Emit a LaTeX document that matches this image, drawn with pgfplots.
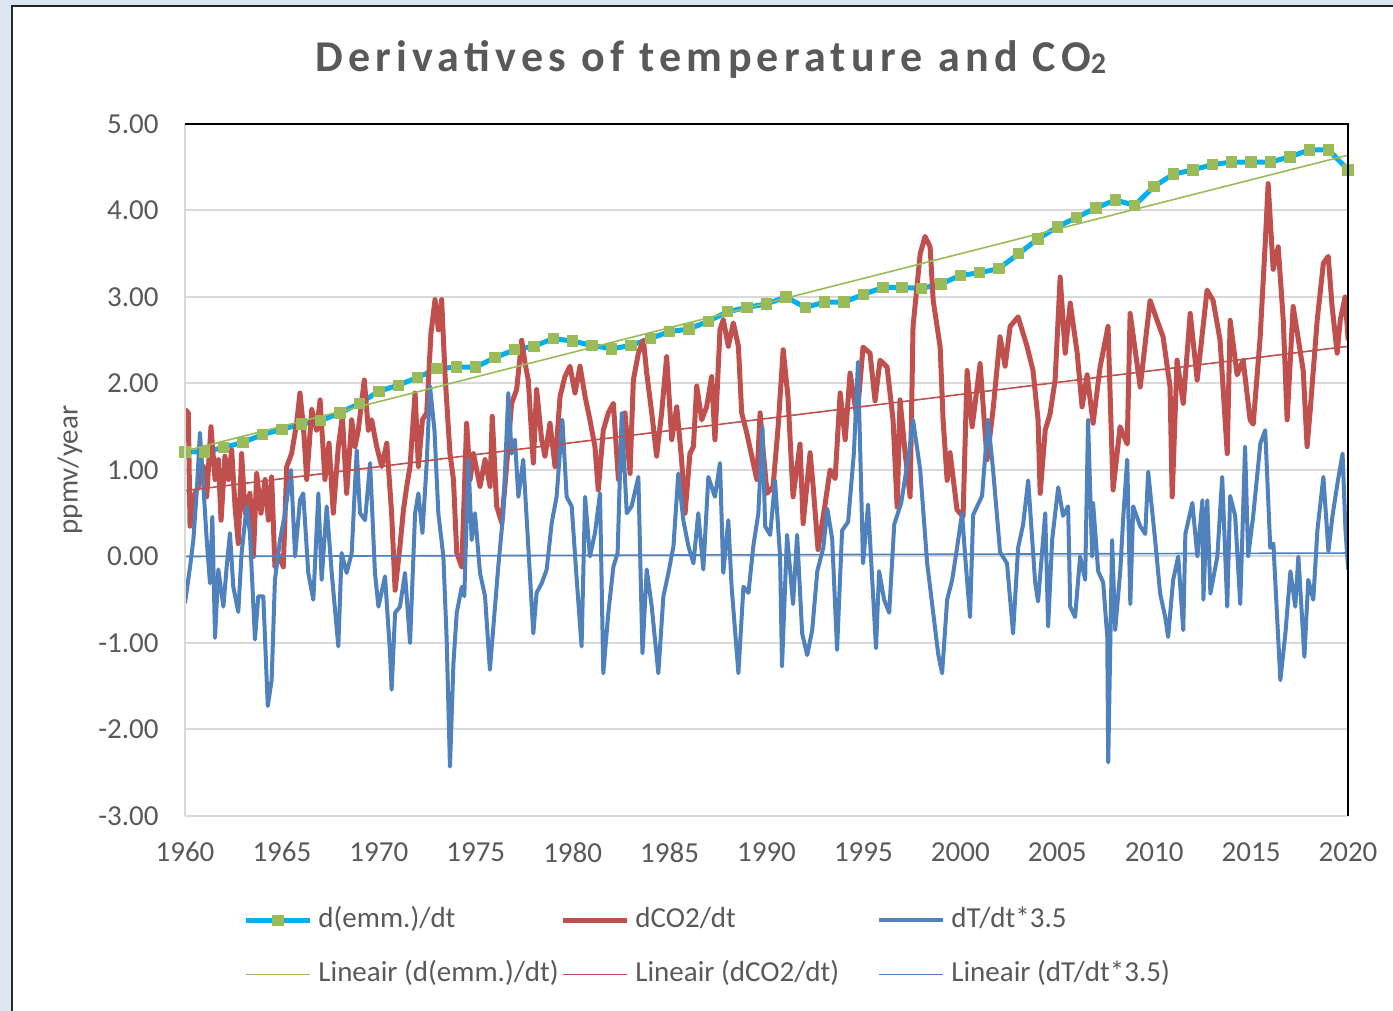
\documentclass[border=0pt]{standalone}
\usepackage{fontspec}
\setmainfont{Carlito}
\newfontfamily\titlefont[LetterSpace=12]{Carlito}
\usepackage{pgfplots}
\pgfplotsset{compat=1.18}
\definecolor{bgblue}{HTML}{DCE6F2}
\definecolor{txtgray}{HTML}{595959}
\definecolor{gridgray}{HTML}{D9D9D9}
\definecolor{emmcyan}{HTML}{00B0F0}
\definecolor{emmgreen}{HTML}{9BBB59}
\definecolor{co2red}{HTML}{C0504D}
\definecolor{tblue}{HTML}{4F81BD}
\newcommand{\fs}{\fontsize{14.5}{17}\selectfont}
\newcommand{\lt}[1]{\makebox[121pt][l]{\textcolor{txtgray}{#1}}}
\begin{document}
\begin{tikzpicture}
\useasboundingbox (0,0) rectangle (696.5pt,505.5pt);
\fill[bgblue] (0,0) rectangle (696.5pt,505.5pt);
\fill[white] (6pt,0) rectangle (696.5pt,502.5pt);
\draw[black!85, line width=1pt] (6pt,0) -- (6pt,502.5pt) -- (696.5pt,502.5pt);
\begin{axis}[
  name=ax,
  at={(92.5pt,97.5pt)}, anchor=south west,
  scale only axis, width=581.5pt, height=346pt,
  xmin=1960, xmax=2020, ymin=-3, ymax=5,
  xtick={1960,1965,...,2020}, ytick={-3,-2,...,5},
  axis line style={draw=none},
  major tick length=0pt,
  ymajorgrids, major grid style={gridgray, line width=1pt},
  tick label style={text=txtgray, font=\fs},
  /pgf/number format/assume math mode=true,
  xticklabel style={/pgf/number format/1000 sep={}, anchor=north, yshift=-13pt, inner sep=0pt},
  yticklabel style={/pgf/number format/.cd, fixed, fixed zerofill, precision=2, /tikz/.cd, anchor=east, xshift=-13pt, inner sep=0pt},
  ylabel={ppmv/year},
  ylabel style={at={(axis description cs:-0.099,0.5)}, anchor=center, text=txtgray, font=\fs},
  title={{\titlefont\bfseries Derivatives of temperature and CO\raisebox{-0.05em}{\fontsize{15}{15}\selectfont 2}}},
  title style={at={(axis description cs:0.452,1.076)}, anchor=center, text=txtgray, font=\fontsize{22}{25}\selectfont},
  legend columns=3,
  legend cell align=left,
  legend image code/.code={\draw[mark repeat=2,mark phase=2,#1] plot coordinates {(0pt,0pt) (16pt,0pt) (32pt,0pt)};},
  legend style={at={(axis description cs:0.0499,-0.1257)}, anchor=north west,
    draw=none, fill=none, inner sep=0pt, font=\fs,
    nodes={inner xsep=0pt, inner ysep=2pt, text height=10pt, text depth=3pt},
    /tikz/every odd column/.append style={column sep=3pt},
    row sep=10pt},
]
\addplot[emmcyan, line width=2.5pt, mark=square*, mark size=2.6pt, mark options={emmgreen, fill=emmgreen, line width=0pt}] table {
1960 1.21
1961 1.21
1962 1.26
1963 1.32
1964 1.41
1965 1.47
1966 1.53
1967 1.57
1968 1.66
1969 1.77
1970 1.91
1971 1.98
1972 2.07
1973 2.17
1974 2.19
1975 2.19
1976 2.30
1977 2.39
1978 2.43
1979 2.52
1980 2.49
1981 2.44
1982 2.40
1983 2.44
1984 2.52
1985 2.60
1986 2.63
1987 2.72
1988 2.83
1989 2.88
1990 2.92
1991 3.00
1992 2.88
1993 2.94
1994 2.94
1995 3.03
1996 3.11
1997 3.11
1998 3.10
1999 3.15
2000 3.25
2001 3.28
2002 3.33
2003 3.50
2004 3.67
2005 3.81
2006 3.92
2007 4.03
2008 4.12
2009 4.06
2010 4.28
2011 4.42
2012 4.47
2013 4.53
2014 4.56
2015 4.56
2016 4.56
2017 4.62
2018 4.70
2019 4.70
2020 4.47
};
\addlegendentry{\lt{d(emm.)/dt}}
\addplot[co2red, line width=2.5pt, line join=round] table {
1960.00 1.70
1960.17 1.66
1960.26 0.35
1960.52 0.73
1960.69 0.81
1960.95 1.04
1961.12 0.69
1961.34 1.50
1961.55 0.89
1961.72 1.12
1961.86 0.42
1962.06 1.16
1962.24 0.89
1962.41 1.23
1962.58 0.58
1962.75 0.15
1962.92 1.19
1963.10 0.50
1963.35 0.73
1963.53 0.00
1963.70 0.96
1963.92 0.50
1964.13 0.89
1964.30 0.42
1964.47 0.92
1964.64 -0.12
1964.90 0.00
1965.07 -0.12
1965.25 1.04
1965.50 1.19
1965.76 1.54
1965.93 1.89
1966.11 1.50
1966.28 0.89
1966.54 1.70
1966.79 1.46
1966.97 1.81
1967.22 0.89
1967.43 1.31
1967.65 0.50
1967.91 1.27
1968.12 1.62
1968.34 0.73
1968.60 1.58
1968.77 1.27
1968.94 1.46
1969.25 2.04
1969.46 1.46
1969.63 1.58
1969.89 1.27
1970.15 1.04
1970.41 1.31
1970.66 0.50
1970.84 -0.39
1971.09 0.12
1971.27 0.54
1971.44 0.81
1971.61 1.04
1971.87 1.89
1972.04 1.04
1972.25 1.58
1972.47 1.66
1972.69 2.58
1972.90 2.97
1973.07 2.62
1973.24 2.97
1973.42 2.08
1973.67 1.19
1973.85 0.89
1974.02 0.04
1974.28 -0.12
1974.53 1.54
1974.71 0.89
1974.88 1.19
1975.22 0.81
1975.48 1.12
1975.74 0.81
1975.85 1.62
1976.08 0.58
1976.34 0.39
1976.59 1.04
1976.85 1.77
1977.11 1.93
1977.37 2.50
1977.54 2.24
1977.71 2.04
1977.97 1.08
1978.14 1.93
1978.40 1.35
1978.57 1.16
1978.83 1.54
1979.09 1.04
1979.35 1.85
1979.60 2.08
1979.86 2.20
1980.12 1.89
1980.38 2.20
1980.64 1.85
1980.89 1.58
1981.15 1.27
1981.32 0.77
1981.58 1.46
1981.84 1.66
1982.10 1.77
1982.36 0.89
1982.53 1.08
1982.70 1.66
1982.96 0.96
1983.13 2.04
1983.39 2.35
1983.65 2.50
1983.82 2.12
1984.08 1.66
1984.33 1.16
1984.59 1.66
1984.85 2.31
1985.11 1.35
1985.37 1.73
1985.62 1.12
1985.80 0.50
1986.05 1.19
1986.23 1.27
1986.40 1.97
1986.66 1.58
1986.91 1.73
1987.17 2.08
1987.34 1.35
1987.60 2.62
1987.77 2.74
1988.03 2.43
1988.29 2.70
1988.55 2.43
1988.72 1.66
1988.98 1.43
1989.24 1.16
1989.50 0.89
1989.67 1.66
1989.84 1.19
1990.03 0.73
1990.34 0.81
1990.60 1.50
1990.86 2.39
1991.11 1.84
1991.37 0.69
1991.73 1.30
1991.89 0.38
1992.25 1.20
1992.41 0.80
1992.66 0.08
1993.02 0.60
1993.28 1.00
1993.54 0.90
1993.80 1.89
1994.06 1.35
1994.31 2.12
1994.67 1.60
1994.98 2.42
1995.34 2.35
1995.60 1.80
1995.86 2.27
1996.22 2.19
1996.53 1.58
1996.74 0.57
1996.89 1.81
1997.15 1.20
1997.41 0.69
1997.56 2.66
1997.93 3.50
1998.18 3.70
1998.44 3.58
1998.60 2.96
1998.96 2.42
1999.11 1.58
1999.32 0.88
1999.47 1.20
1999.83 0.54
2000.14 0.46
2000.35 2.15
2000.61 1.50
2001.02 2.23
2001.38 1.12
2001.69 1.70
2002.05 2.54
2002.31 2.20
2002.57 2.66
2002.98 2.77
2003.44 2.43
2003.75 2.15
2004.01 1.58
2004.12 0.73
2004.38 1.46
2004.63 1.65
2004.89 2.04
2005.15 3.23
2005.41 2.35
2005.67 2.93
2006.03 2.35
2006.28 1.73
2006.54 2.10
2006.85 1.54
2007.21 2.19
2007.62 2.66
2007.88 0.77
2008.24 1.50
2008.61 1.30
2008.76 2.81
2009.28 1.96
2009.79 2.96
2010.15 2.73
2010.46 2.54
2010.82 1.96
2010.93 0.69
2011.18 2.27
2011.50 1.77
2011.86 2.81
2012.22 2.04
2012.73 3.08
2013.04 2.96
2013.40 2.50
2013.77 1.19
2013.92 2.73
2014.28 2.10
2014.59 2.27
2014.95 1.58
2015.11 1.53
2015.47 2.54
2015.73 3.62
2015.88 4.31
2016.14 3.32
2016.40 3.58
2016.66 2.73
2016.86 1.58
2017.17 2.89
2017.69 2.15
2017.89 1.27
2018.05 1.69
2018.41 2.73
2018.73 3.39
2018.98 3.47
2019.18 2.89
2019.44 2.35
2019.60 2.73
2019.85 3.00
2020.01 2.50
};
\addlegendentry{\lt{dCO2/dt}}
\addplot[tblue, line width=2pt, line join=round] table {
1960.00 -0.54
1960.26 -0.12
1960.43 0.19
1960.60 0.73
1960.77 1.43
1960.95 0.81
1961.12 0.19
1961.29 -0.31
1961.41 0.46
1961.55 -0.94
1961.72 -0.15
1961.98 -0.58
1962.15 -0.12
1962.32 0.27
1962.49 -0.35
1962.75 -0.64
1962.92 0.04
1963.18 0.58
1963.35 0.27
1963.61 -0.96
1963.78 -0.46
1964.04 -0.46
1964.27 -1.73
1964.47 -1.43
1964.64 -0.27
1964.90 0.19
1965.16 0.50
1965.47 1.00
1965.68 0.00
1965.93 0.65
1966.10 0.73
1966.36 -0.19
1966.62 -0.50
1966.88 0.73
1967.05 -0.27
1967.31 0.58
1967.57 -0.19
1967.91 -1.04
1968.08 0.04
1968.34 -0.19
1968.60 0.04
1968.86 1.23
1969.03 0.50
1969.29 0.42
1969.55 1.08
1969.80 -0.19
1969.98 -0.58
1970.32 -0.23
1970.58 -1.12
1970.66 -1.54
1970.84 -0.65
1971.09 -0.58
1971.35 -0.19
1971.61 -1.00
1971.87 0.50
1972.04 0.73
1972.25 0.27
1972.47 1.08
1972.64 1.97
1972.87 1.46
1973.07 0.50
1973.33 0.00
1973.50 -0.96
1973.67 -2.43
1973.85 -1.23
1974.02 -0.65
1974.28 -0.35
1974.41 -0.46
1974.62 1.12
1974.79 0.19
1974.96 0.50
1975.22 -0.19
1975.48 -0.46
1975.73 -1.31
1975.91 -0.81
1976.16 -0.12
1976.42 0.50
1976.68 1.89
1976.85 1.19
1977.02 1.35
1977.20 0.69
1977.45 1.12
1977.71 0.12
1977.97 -0.89
1978.14 -0.42
1978.40 -0.31
1978.66 -0.15
1978.92 0.39
1979.17 0.69
1979.47 1.58
1979.69 0.69
1979.95 0.58
1980.21 -0.27
1980.46 -1.04
1980.64 0.69
1980.89 0.00
1981.15 0.27
1981.41 0.73
1981.58 -1.35
1981.84 -0.65
1982.10 -0.12
1982.32 0.04
1982.53 1.66
1982.79 0.50
1983.04 0.58
1983.39 0.92
1983.60 -1.12
1983.82 -0.15
1984.08 -0.58
1984.42 -1.35
1984.68 -0.46
1984.94 -0.19
1985.20 0.12
1985.45 0.96
1985.71 0.42
1985.97 0.12
1986.23 -0.08
1986.48 0.50
1986.74 -0.15
1987.00 0.92
1987.34 0.69
1987.60 1.08
1987.77 -0.19
1988.03 0.42
1988.20 -0.35
1988.55 -1.35
1988.81 -0.35
1989.07 -0.42
1989.32 0.12
1989.58 0.50
1989.79 1.50
1989.93 0.35
1990.19 0.25
1990.44 0.88
1990.70 0.00
1990.80 -1.27
1991.06 0.25
1991.37 -0.55
1991.58 0.25
1991.84 -0.89
1992.10 -1.14
1992.36 -0.85
1992.62 -0.17
1992.93 0.10
1993.14 0.55
1993.39 0.20
1993.64 -1.08
1993.90 0.30
1994.21 0.40
1994.51 1.20
1994.72 2.25
1994.98 -0.08
1995.24 0.60
1995.65 -1.06
1995.81 -0.17
1996.07 -0.50
1996.33 -0.65
1996.59 0.37
1996.95 0.62
1997.36 1.21
1997.56 1.58
1997.93 1.00
1998.29 -0.08
1998.60 -0.65
1998.86 -1.13
1999.06 -1.35
1999.32 -0.50
1999.58 -0.27
1999.83 0.10
2000.09 0.50
2000.25 0.00
2000.50 -0.70
2000.66 0.48
2001.12 0.70
2001.43 1.58
2001.69 1.00
2002.05 0.05
2002.41 -0.08
2002.72 -0.89
2002.98 0.10
2003.24 0.37
2003.50 0.88
2003.86 -0.30
2004.01 -0.52
2004.38 0.50
2004.53 -0.81
2004.74 0.20
2005.05 0.80
2005.30 0.47
2005.56 0.58
2005.67 -0.58
2005.92 -0.70
2006.18 0.00
2006.44 -0.27
2006.59 1.58
2006.80 0.00
2006.85 0.62
2007.11 -0.17
2007.37 -0.30
2007.58 -0.93
2007.63 -2.38
2007.83 0.19
2007.99 -0.85
2008.25 -0.17
2008.41 0.47
2008.61 1.12
2008.77 -0.55
2008.92 0.58
2009.28 0.35
2009.54 0.26
2009.69 0.98
2010.05 0.19
2010.31 -0.43
2010.57 -0.70
2010.72 -0.93
2010.98 -0.27
2011.24 0.00
2011.50 -0.85
2011.61 0.26
2011.97 0.62
2012.23 0.00
2012.49 0.65
2012.54 -0.50
2012.74 0.65
2012.90 -0.43
2013.26 0.00
2013.51 0.92
2013.77 -0.58
2013.92 0.70
2014.18 0.47
2014.44 -0.55
2014.69 1.27
2014.85 0.00
2015.11 0.47
2015.48 1.31
2015.73 1.46
2015.99 0.10
2016.15 0.15
2016.51 -1.43
2016.77 -0.89
2017.03 -0.17
2017.28 -0.58
2017.44 0.00
2017.75 -1.16
2017.95 -0.27
2018.21 -0.50
2018.42 0.30
2018.73 0.92
2018.99 0.06
2019.20 0.47
2019.46 0.85
2019.72 1.19
2019.87 0.30
2020.01 -0.15
};
\addlegendentry{\lt{dT/dt*3.5}}
\addplot[draw=emmgreen, color=emmgreen, line width=0.8pt] table {
1960 1.22
2020 4.64
};
\addlegendentry{\lt{Lineair (d(emm.)/dt)}}
\addplot[draw=co2red, color=co2red, line width=0.8pt] table {
1960 0.76
2020 2.43
};
\addlegendentry{\lt{Lineair (dCO2/dt)}}
\addplot[draw=tblue, color=tblue, line width=0.8pt] table {
1960 0.00
2020 0.04
};
\addlegendentry{\lt{Lineair (dT/dt*3.5)}}
\end{axis}
\draw[gridgray, line width=1pt] (ax.south west) -- (ax.south east);
\draw[gridgray, line width=1pt] (ax.south west) -- (ax.north west);
\draw[black, line width=1pt] (ax.north west) -- (ax.north east) -- (ax.south east);
\end{tikzpicture}
\end{document}
